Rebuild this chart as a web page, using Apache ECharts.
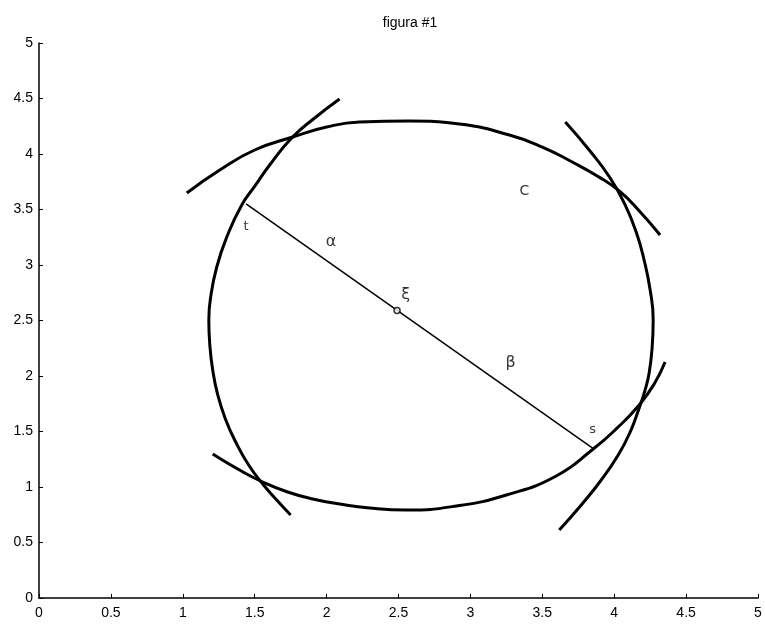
<!DOCTYPE html>
<html>
<head>
<meta charset="utf-8">
<script src="https://cdn.jsdelivr.net/npm/echarts@6/dist/echarts.min.js"></script>
<style>
html,body{margin:0;padding:0;background:#fff;}
#chart{width:765px;height:630px;}
</style>
</head>
<body>
<div id="chart"></div>
<script>
// Arcs ([x, y] in data units)
var topArc = [[1.028,3.649],[1.257,3.856],[1.500,4.036],[1.764,4.153],[2.000,4.243],[2.229,4.288],[2.576,4.297],[2.924,4.270],[3.271,4.171],[3.500,4.063],[3.708,3.928],[3.882,3.802],[4.035,3.667],[4.181,3.477],[4.319,3.270]];
var leftArc = [[2.090,4.495],[1.917,4.324],[1.757,4.144],[1.604,3.901],[1.507,3.721],[1.410,3.541],[1.306,3.252],[1.236,2.982],[1.194,2.712],[1.181,2.505],[1.188,2.279],[1.208,2.054],[1.243,1.829],[1.299,1.604],[1.368,1.405],[1.458,1.198],[1.556,1.027],[1.653,0.883],[1.750,0.748]];
var bottomArc = [[1.208,1.297],[1.382,1.162],[1.556,1.045],[1.729,0.955],[1.903,0.892],[2.090,0.847],[2.299,0.811],[2.556,0.793],[2.903,0.829],[3.250,0.928],[3.597,1.099],[3.854,1.342],[4.021,1.532],[4.174,1.739],[4.278,1.928],[4.354,2.126]];
var rightArc = [[3.660,4.288],[3.826,4.036],[3.972,3.784],[4.076,3.541],[4.153,3.297],[4.208,3.045],[4.250,2.775],[4.271,2.505],[4.264,2.261],[4.243,2.027],[4.215,1.874],[4.174,1.712],[4.111,1.495],[4.028,1.288],[3.910,1.063],[3.771,0.838],[3.618,0.613]];
var segmentTS = [[1.44,3.55],[3.85,1.35]];
var xiPoint = [[2.49,2.59]];
var labelTexts = ['t','α','ξ','β','s','C'];
var labelX = [1.44, 2.03, 2.55, 3.28, 3.85, 3.375];
var labelY = [3.35, 3.21, 2.73, 2.12, 1.52, 3.66];
var labelSizes = [13, 16, 16, 16, 13, 14];
var titleText = 'figura #1';
var axisMin = 0, axisMax = 5, axisStep = 0.5;

var chart = echarts.init(document.getElementById('chart'), null, {renderer:'canvas'});
function arcSeries(d){
  return {type:'line', data:d, smooth:0.5, symbol:'none', silent:true,
    lineStyle:{color:'#000', width:3}, z:3};
}
var labelData = labelTexts.map(function(t,i){
  return {value:[labelX[i], labelY[i]], name:t, label:{fontSize:labelSizes[i]}};
});
var axisCommon = {
  type:'value', min:axisMin, max:axisMax, interval:axisStep,
  axisLine:{show:true, onZero:false, lineStyle:{color:'#000', width:1.5}},
  axisTick:{show:true, inside:true, length:4, lineStyle:{color:'#000', width:1}},
  splitLine:{show:false},
  axisLabel:{color:'#000', fontSize:14, fontFamily:'Liberation Sans, Arial, sans-serif'}
};
chart.setOption({
  animation:false,
  backgroundColor:'#fff',
  title:{text:titleText, left:405, top:11, textAlign:'center',
    textStyle:{fontSize:14, fontWeight:'normal', color:'#000', fontFamily:'Liberation Sans, Arial, sans-serif'}},
  grid:{left:39, right:7, top:43, bottom:32, containLabel:false},
  xAxis:Object.assign({}, axisCommon, {axisLabel:Object.assign({}, axisCommon.axisLabel, {margin:8})}),
  yAxis:Object.assign({}, axisCommon, {axisLabel:Object.assign({}, axisCommon.axisLabel, {margin:6})}),
  series:[
    arcSeries(topArc), arcSeries(leftArc), arcSeries(bottomArc), arcSeries(rightArc),
    {type:'line', data:segmentTS, symbol:'none', silent:true, lineStyle:{color:'#000', width:1.5}, z:2},
    {type:'scatter', data:xiPoint, symbol:'circle', symbolSize:6, silent:true,
      itemStyle:{color:'#fff', borderColor:'#000', borderWidth:1.5}, z:4},
    {type:'scatter', data:labelData, symbolSize:0, silent:true, z:5,
      label:{show:true, position:'inside', formatter:function(p){return p.name;},
        color:'#000', fontFamily:'DejaVu Sans, sans-serif'}}
  ]
});
</script>
</body>
</html>
